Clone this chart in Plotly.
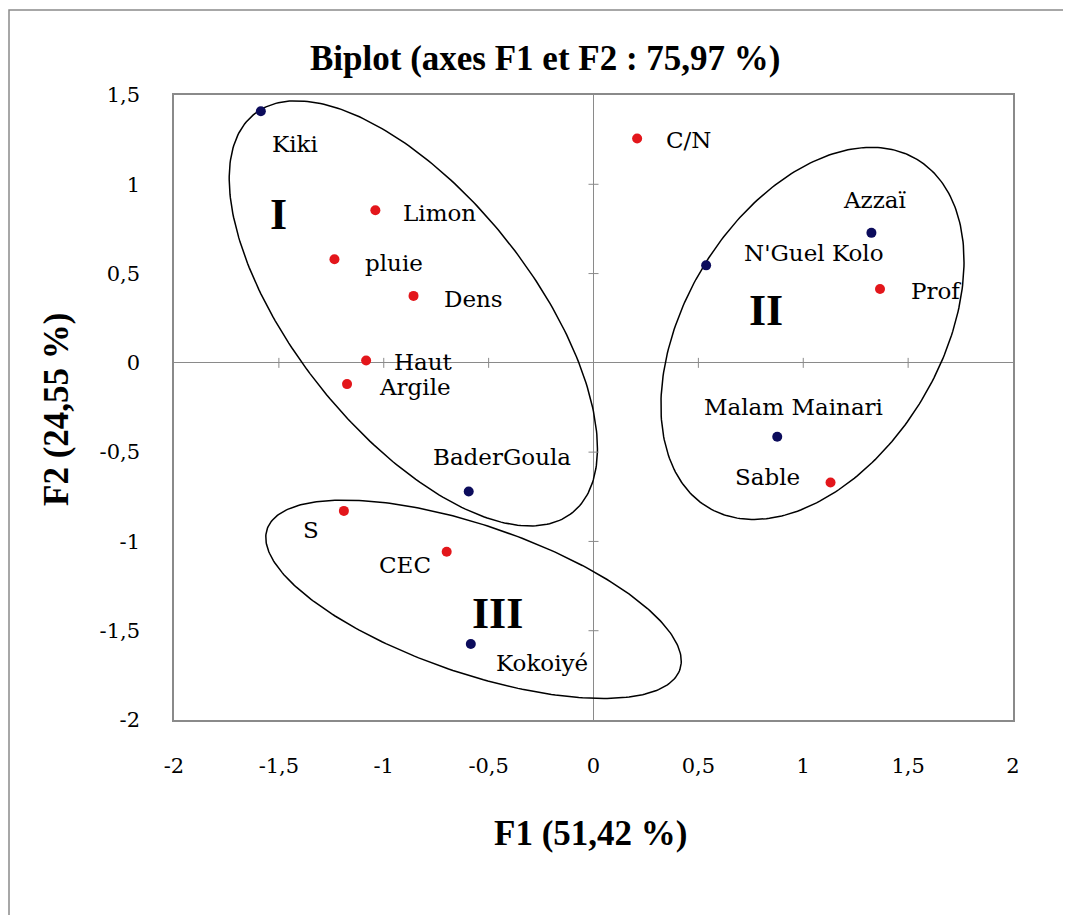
import numpy as np
import plotly.graph_objects as go

# ---------------- data ----------------
var_names = ["Limon", "pluie", "Dens", "Haut", "Argile", "C/N", "Prof", "Sable", "S", "CEC"]
var_x = [-1.040, -1.235, -0.858, -1.084, -1.175, 0.208, 1.366, 1.130, -1.19, -0.70]
var_y = [0.855, 0.580, 0.375, 0.013, -0.119, 1.256, 0.414, -0.670, -0.829, -1.058]

obs_names = ["Kiki", "Azzaï", "N'Guel Kolo", "Malam Mainari", "BaderGoula", "Kokoiyé"]
obs_x = [-1.586, 1.325, 0.537, 0.876, -0.595, -0.585]
obs_y = [1.409, 0.728, 0.546, -0.414, -0.720, -1.574]

tick_vals = [-2, -1.5, -1, -0.5, 0, 0.5, 1, 1.5, 2]
x_tick_text = ["-2", "-1,5", "-1", "-0,5", "0", "0,5", "1", "1,5", "2"]
y_tick_vals = [-2, -1.5, -1, -0.5, 0, 0.5, 1, 1.5]
y_tick_text = ["-2", "-1,5", "-1", "-0,5", "0", "0,5", "1", "1,5"]

group_names = ["I", "II", "III"]
group_x = [-1.504, 0.820, -0.458]
group_y = [0.829, 0.295, -1.404]

# ellipses: centre (data), semi-axes (px), angle (deg, screen)
ell_cx = [-0.859, 1.044, -0.572]
ell_cy = [0.277, 0.165, -1.324]
ell_a = [255, 203, 218]
ell_b = [118.6, 128, 74]
ell_ang = [-51.4, 59.0, -18.8]

# label offsets (px): dx, dy(down), anchor
lab_off = {
    "Limon": (26, 3, "left"), "pluie": (29, 4, "left"), "Dens": (28, 3, "left"),
    "Haut": (26, 1, "left"), "Argile": (30, 3, "left"), "C/N": (27, 1, "left"),
    "Prof": (29, 2, "left"), "Sable": (-29, -6, "right"), "S": (-23, 19, "right"),
    "CEC": (-14, 13, "right"), "Kiki": (9, 33, "left"), "Azzaï": (4, -33, "center"),
    "N'Guel Kolo": (36, -12, "left"), "Malam Mainari": (16, -30, "center"),
    "BaderGoula": (33, -34, "center"), "Kokoiyé": (23, 19, "left"),
}

# ---------------- layout constants ----------------
OFF = 8                      # page body margin
W, H = 1071 - OFF, 915 - OFF
L, T = 174 - OFF, 95 - OFF
R = W - (1013 - OFF)
B = H - (720 - OFF)
PW, PH = W - L - R, H - T - B
sx = PW / 4.0
sy = PH / 3.5

RED = "#e3161b"
BLUE = "#0c0c5c"
GRAY = "#8a8a8a"
SERIF = "Liberation Serif, Times New Roman, serif"
LSERIF = "DejaVu Serif, serif"

fig = go.Figure()

# ellipses
t = np.linspace(0, 2 * np.pi, 300)
for cx, cy, a, b, ang in zip(ell_cx, ell_cy, ell_a, ell_b, ell_ang):
    th = np.deg2rad(ang)
    px = a * np.cos(t) * np.cos(th) - b * np.sin(t) * np.sin(th)
    py = a * np.cos(t) * np.sin(th) + b * np.sin(t) * np.cos(th)
    fig.add_trace(go.Scatter(x=cx + px / sx, y=cy + py / sy, mode="lines",
                             line=dict(color="black", width=1.5),
                             hoverinfo="skip", showlegend=False))

fig.add_trace(go.Scatter(x=var_x, y=var_y, mode="markers", text=var_names,
                         marker=dict(color=RED, size=10), showlegend=False))
fig.add_trace(go.Scatter(x=obs_x, y=obs_y, mode="markers", text=obs_names,
                         marker=dict(color=BLUE, size=10), showlegend=False))

annotations = []
for names, xs, ys in ((var_names, var_x, var_y), (obs_names, obs_x, obs_y)):
    for n, x, y in zip(names, xs, ys):
        dx, dy, anc = lab_off[n]
        annotations.append(dict(x=x, y=y, xref="x", yref="y", text=n, showarrow=False,
                                xanchor=anc, yanchor="middle", xshift=dx, yshift=-dy,
                                font=dict(family=LSERIF, size=23, color="black")))
for n, x, y in zip(group_names, group_x, group_y):
    annotations.append(dict(x=x, y=y, xref="x", yref="y", text="<b>%s</b>" % n,
                            showarrow=False, xanchor="center", yanchor="middle",
                            font=dict(family=SERIF, size=44, color="black")))


def pxp(px):
    return (px - OFF - L) / PW


def pyp(py):
    return (H - B - (py - OFF)) / PH


annotations.append(dict(x=pxp(545), y=pyp(58), xref="paper", yref="paper",
                        text="<b>Biplot (axes F1 et F2 : 75,97 %)</b>", showarrow=False,
                        xanchor="center", yanchor="middle",
                        font=dict(family=SERIF, size=35, color="black")))
annotations.append(dict(x=pxp(590), y=pyp(834), xref="paper", yref="paper",
                        text="<b>F1 (51,42 %)</b>", showarrow=False,
                        xanchor="center", yanchor="middle",
                        font=dict(family=SERIF, size=35, color="black")))
annotations.append(dict(x=pxp(56), y=pyp(410), xref="paper", yref="paper",
                        text="<b>F2 (24,55 %)</b>", showarrow=False, textangle=-90,
                        xanchor="center", yanchor="middle",
                        font=dict(family=SERIF, size=35, color="black")))

shapes = []
# crossing tick marks on zero lines
for v in tick_vals:
    if v in (-2, 0, 2):
        continue
    shapes.append(dict(type="line", xref="x", yref="y", x0=v, x1=v, yanchor=0,
                       ysizemode="pixel", y0=-5, y1=5, line=dict(color=GRAY, width=1)))
for v in y_tick_vals:
    if v in (-2, 0, 1.5):
        continue
    shapes.append(dict(type="line", xref="x", yref="y", y0=v, y1=v, xanchor=0,
                       xsizemode="pixel", x0=-5, x1=5, line=dict(color=GRAY, width=1)))
# outer frame
shapes.append(dict(type="rect", xref="paper", yref="paper", x0=pxp(9), x1=pxp(1071 + 30),
                   y0=pyp(915 + 30), y1=pyp(10), line=dict(color=GRAY, width=1.5),
                   layer="below"))

fig.update_layout(
    width=W, height=H,
    margin=dict(l=L, r=R, t=T, b=B, autoexpand=False),
    paper_bgcolor="white", plot_bgcolor="white",
    showlegend=False,
    annotations=annotations, shapes=shapes,
    xaxis=dict(range=[-2, 2], tickvals=tick_vals, ticktext=x_tick_text,
               showgrid=False, zeroline=True, zerolinecolor=GRAY, zerolinewidth=1,
               showline=True, mirror=True, linecolor=GRAY, linewidth=1.5,
               ticks="outside", ticklen=26, tickcolor="rgba(0,0,0,0)",
               tickfont=dict(family=LSERIF, size=21, color="black"), fixedrange=True),
    yaxis=dict(range=[-2, 1.5], tickvals=y_tick_vals, ticktext=y_tick_text,
               showgrid=False, zeroline=True, zerolinecolor=GRAY, zerolinewidth=1,
               showline=True, mirror=True, linecolor=GRAY, linewidth=1.5,
               ticks="outside", ticklen=28, tickcolor="rgba(0,0,0,0)",
               tickfont=dict(family=LSERIF, size=21, color="black"), fixedrange=True),
)

fig.write_html("out.html")
